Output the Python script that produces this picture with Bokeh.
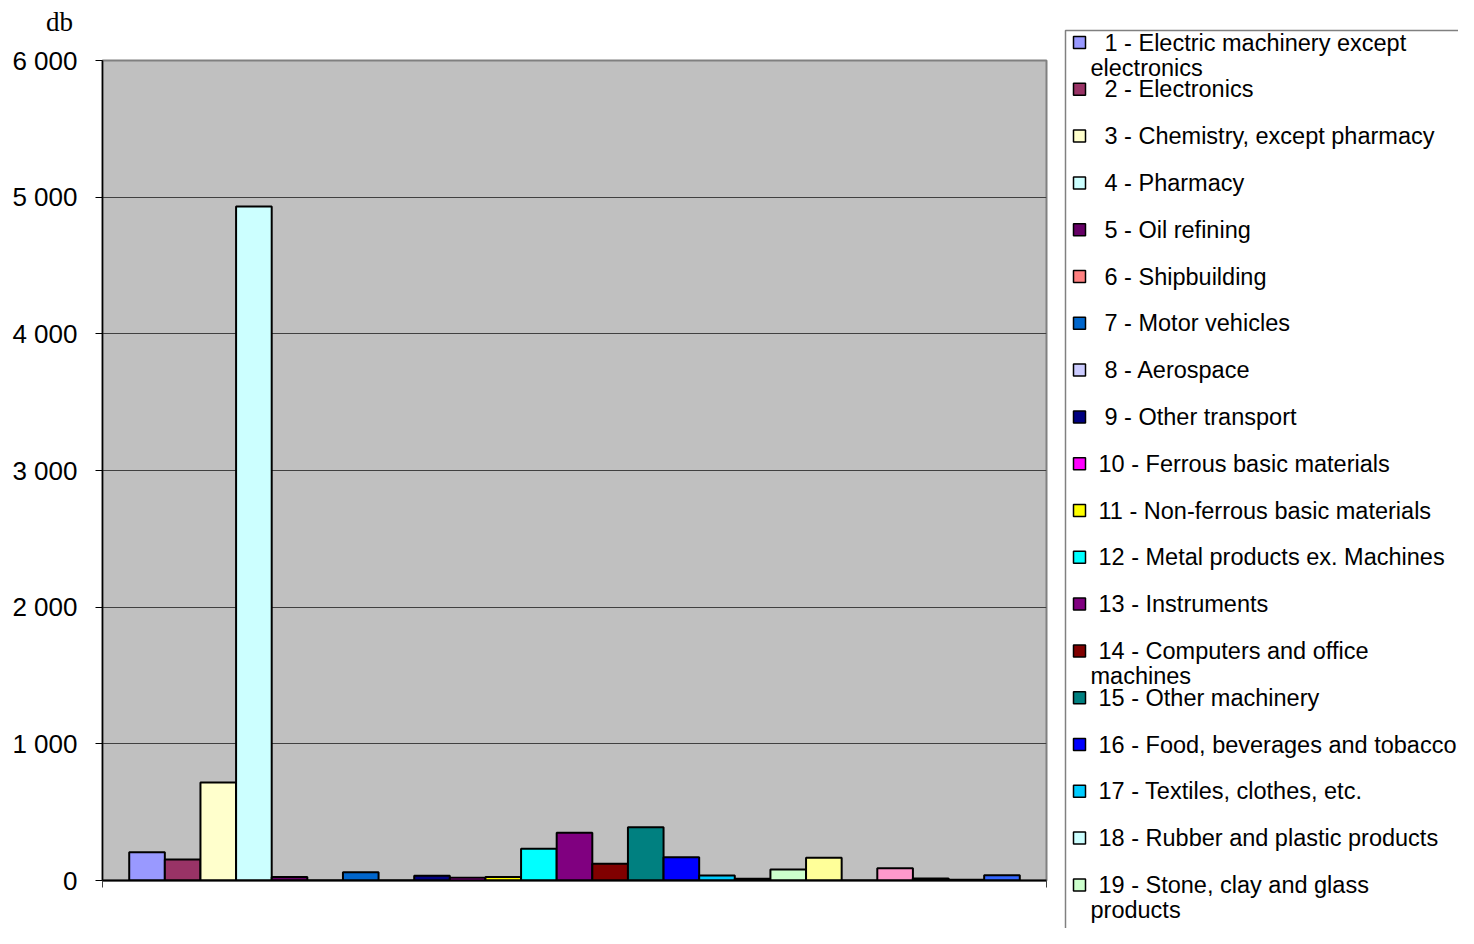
from bokeh.plotting import figure
from bokeh.models import Range1d, FixedTicker, ColumnDataSource
from bokeh.layouts import row, column
from bokeh.embed import file_html
from bokeh.resources import INLINE
from bokeh.core.properties import value

# ---- data ----
series_num = list(range(1, 26))
values = [207, 154, 717, 4932, 25, 0, 61, 0, 34, 20, 25, 232, 349, 122, 390,
          171, 37, 12, 80, 166, 0, 90, 14, 5, 39]
colors = ["#9999FF", "#993366", "#FFFFCC", "#CCFFFF", "#660066", "#FF8080",
          "#0066CC", "#CCCCFF", "#000080", "#FF00FF", "#FFFF00", "#00FFFF",
          "#800080", "#800000", "#008080", "#0000FF", "#00CCFF", "#CCFFFF",
          "#CCFFCC", "#FFFF99", "#99CCFF", "#FF99CC", "#CC99FF", "#FFCC99",
          "#3366FF"]
legend_lines = [
    ["1 - Electric machinery except", "electronics"],
    ["2 - Electronics"],
    ["3 - Chemistry, except pharmacy"],
    ["4 - Pharmacy"],
    ["5 - Oil refining"],
    ["6 - Shipbuilding"],
    ["7 - Motor vehicles"],
    ["8 - Aerospace"],
    ["9 - Other transport"],
    ["10 - Ferrous basic materials"],
    ["11 - Non-ferrous basic materials"],
    ["12 - Metal products ex. Machines"],
    ["13 - Instruments"],
    ["14 - Computers and office", "machines"],
    ["15 - Other machinery"],
    ["16 - Food, beverages and tobacco"],
    ["17 - Textiles, clothes, etc."],
    ["18 - Rubber and plastic products"],
    ["19 - Stone, clay and glass", "products"],
]
y_ticks = [0, 1000, 2000, 3000, 4000, 5000, 6000]
y_tick_labels = ["0", "1 000", "2 000", "3 000", "4 000", "5 000", "6 000"]
y_label = "db"

TOTAL_W, TOTAL_H = 1458, 928
LEFT_W = 1058
DB_H = 40


def no_align(fig):
    try:
        fig.frame_align = False
    except Exception:
        pass


# ---- "db" unit label strip ----
dbf = figure(width=LEFT_W, height=DB_H, output_backend="svg",
             toolbar_location=None, x_range=Range1d(0, LEFT_W),
             y_range=Range1d(DB_H, 0), min_border=0, min_border_left=0,
             min_border_right=0, min_border_top=0, min_border_bottom=0)
dbf.axis.visible = False
dbf.grid.visible = False
dbf.outline_line_color = None
dbf.background_fill_color = "white"
dbf.border_fill_color = "white"
dbf.text(x=[59], y=[21], text=[y_label], text_font=value("Liberation Serif"),
         text_font_size="27px", text_align="center", text_baseline="middle",
         text_color="black")
no_align(dbf)

# ---- main chart ----
MAIN_H = TOTAL_H - DB_H
p = figure(width=LEFT_W, height=MAIN_H, output_backend="svg",
           toolbar_location=None,
           x_range=Range1d(0, 26.5), y_range=Range1d(0, 6000),
           min_border_left=102, min_border_right=LEFT_W - 1046,
           min_border_top=60 - DB_H, min_border_bottom=MAIN_H - (880 - DB_H))
p.background_fill_color = "#C0C0C0"
p.border_fill_color = "white"
p.outline_line_color = "#808080"
p.outline_line_width = 2

src = ColumnDataSource(dict(x=[n + 0.25 for n in series_num], top=values,
                            color=colors))
p.vbar(x="x", top="top", bottom=0, width=1.0, fill_color="color",
       line_color="black", line_width=2, source=src)

p.xgrid.visible = False
p.ygrid.ticker = FixedTicker(ticks=y_ticks[1:-1])
p.ygrid.grid_line_color = "#404040"
p.ygrid.grid_line_width = 1

p.yaxis.ticker = FixedTicker(ticks=y_ticks)
p.yaxis.major_label_overrides = {t: l for t, l in zip(y_ticks, y_tick_labels)}
p.yaxis.major_label_text_font = "Liberation Sans"
p.yaxis.major_label_text_font_size = "26px"
p.yaxis.major_label_text_color = "black"
p.yaxis.major_tick_out = 7
p.yaxis.major_tick_in = 0
p.yaxis.minor_tick_line_color = None
p.yaxis.major_label_standoff = 18
p.yaxis.axis_line_color = "black"
p.yaxis.axis_line_width = 1.5

p.xaxis.ticker = FixedTicker(ticks=[0, 26.5])
p.xaxis.major_label_overrides = {0: "", 26.5: ""}
p.xaxis.major_tick_out = 7
p.xaxis.major_tick_in = 0
p.xaxis.major_tick_line_color = "#404040"
p.xaxis.minor_tick_line_color = None
p.xaxis.axis_line_color = "black"
p.xaxis.axis_line_width = 2
no_align(p)

# ---- legend panel ----
LW = TOTAL_W - LEFT_W
leg = figure(width=LW, height=TOTAL_H, output_backend="svg",
             toolbar_location=None,
             x_range=Range1d(0, LW), y_range=Range1d(TOTAL_H, 0),
             min_border=0, min_border_left=0, min_border_right=0,
             min_border_top=0, min_border_bottom=0)
leg.axis.visible = False
leg.grid.visible = False
leg.outline_line_color = None
leg.background_fill_color = "white"
leg.border_fill_color = "white"
no_align(leg)

leg.quad(left=[7], right=[LW + 20], top=[30], bottom=[TOTAL_H + 20],
         fill_color="white", line_color="#808080", line_width=1.5)

n = len(legend_lines)
cy = [42 + 46.8 * k for k in range(n)]
leg.quad(left=[15] * n, right=[27] * n, top=[c - 6 for c in cy],
         bottom=[c + 6 for c in cy], fill_color=colors[:n], line_color="black",
         line_width=1.5)

tx, ty, tt = [], [], []
for k, lines in enumerate(legend_lines):
    first_x = 46 if (k + 1) < 10 else 40
    tx.append(first_x); ty.append(cy[k]); tt.append(lines[0])
    for j, extra in enumerate(lines[1:]):
        tx.append(32); ty.append(cy[k] + 25.5 * (j + 1)); tt.append(extra)
leg.text(x=tx, y=ty, text=tt, text_font=value("Liberation Sans"),
         text_font_size="23.5px", text_baseline="middle", text_align="left",
         text_color="black")

layout = row(column(dbf, p, spacing=0), leg, spacing=0)
open("out.html", "w").write(file_html(layout, INLINE))
